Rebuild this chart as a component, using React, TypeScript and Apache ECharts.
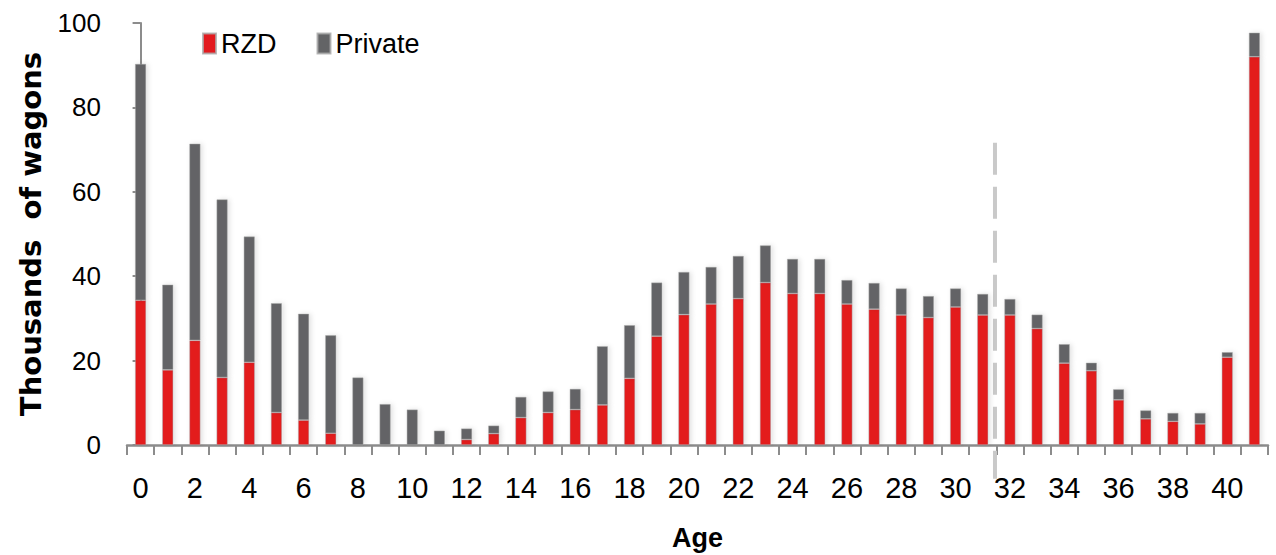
import React, { useEffect, useRef } from "react";
import * as echarts from "echarts";

const ages: string[] = Array.from({ length: 42 }, (_, i) => String(i));
const rzd: number[] = [
  34.3, 17.8, 24.8, 16.0, 19.6, 7.7, 5.9, 2.8, 0, 0,
  0, 0, 1.3, 2.7, 6.5, 7.7, 8.4, 9.5, 15.8, 25.8,
  30.9, 33.4, 34.7, 38.5, 35.9, 35.9, 33.4, 32.2, 30.8, 30.2,
  32.7, 30.8, 30.8, 27.6, 19.4, 17.6, 10.7, 6.2, 5.6, 5.0,
  20.8, 92.0,
];
const total: number[] = [
  90.3, 38.0, 71.4, 58.2, 49.4, 33.6, 31.1, 26.0, 16.0, 9.7,
  8.4, 3.4, 3.9, 4.6, 11.4, 12.7, 13.3, 23.4, 28.4, 38.5,
  41.0, 42.2, 44.8, 47.3, 44.1, 44.1, 39.1, 38.4, 37.1, 35.3,
  37.1, 35.8, 34.6, 30.9, 23.9, 19.5, 13.2, 8.2, 7.6, 7.6,
  22.0, 97.7,
];
const privateVals: number[] = total.map((t, i) => Math.round((t - rzd[i]) * 10) / 10);
const yTicks = { min: 0, max: 100, interval: 20 };
const divider = { x: 31.45, top: 71.6, bottom: -8 };

export default function App() {
  const ref = useRef<HTMLDivElement>(null);
  useEffect(() => {
    document.body.style.margin = "0";
    if (!ref.current) return;
    const chart = echarts.init(ref.current, undefined, { renderer: "svg" });
    const axisColor = "#8c8c8c";
    const barStyle = (color: string) => ({
      color,
      borderColor: "rgba(170,170,170,0.8)",
      borderWidth: 0.6,
      shadowBlur: 5,
      shadowColor: "rgba(0,0,0,0.12)",
      shadowOffsetX: 2,
    });
    chart.setOption({
      animation: false,
      textStyle: { fontFamily: "Liberation Sans" },
      grid: { left: 127, right: 8, top: 23, bottom: 110, containLabel: false, outerBoundsMode: "none" },
      legend: {
        left: 202,
        top: 30,
        padding: 0,
        itemWidth: 13,
        itemHeight: 20,
        itemGap: 40,
        icon: "rect",
        textStyle: { fontSize: 27, color: "#000", fontFamily: "Liberation Sans" },
        data: ["RZD", "Private"],
      },
      xAxis: [
        {
          type: "category",
          data: ages,
          boundaryGap: true,
          name: "Age",
          nameLocation: "middle",
          nameGap: 79,
          nameTextStyle: { fontSize: 27, fontWeight: "bold", color: "#000", fontFamily: "Liberation Sans" },
          axisLine: { lineStyle: { color: axisColor, width: 2.5 } },
          axisTick: { show: true, interval: 0, length: 10, lineStyle: { color: axisColor, width: 2 } },
          axisLabel: {
            interval: 1,
            fontSize: 29,
            color: "#000",
            margin: 28,
            fontFamily: "Liberation Sans",
          },
          splitLine: { show: false },
        },
        {
          type: "value",
          min: -0.5,
          max: 41.5,
          show: false,
        },
      ],
      yAxis: {
        type: "value",
        min: yTicks.min,
        max: yTicks.max,
        interval: yTicks.interval,
        name: "Thousands  of wagons",
        nameLocation: "middle",
        nameGap: 82,
        nameTextStyle: { fontSize: 29, fontWeight: "bold", color: "#000", fontFamily: "DejaVu Sans" },
        axisLine: { show: true, lineStyle: { color: axisColor, width: 2 } },
        axisTick: { show: true, length: 8, lineStyle: { color: axisColor, width: 2 } },
        axisLabel: { fontSize: 26, color: "#000", margin: 26 },
        splitLine: { show: false },
      },
      series: [
        {
          name: "RZD",
          type: "bar",
          stack: "total",
          barWidth: 11,
          data: rzd,
          itemStyle: barStyle("#E31A1F"),
        },
        {
          name: "Private",
          type: "bar",
          stack: "total",
          barWidth: 11,
          data: privateVals,
          itemStyle: barStyle("#636466"),
        },
        {
          name: "divider",
          type: "line",
          xAxisIndex: 1,
          clip: false,
          symbol: "none",
          silent: true,
          data: [
            [divider.x, divider.top],
            [divider.x, divider.bottom],
          ],
          lineStyle: { color: "#c9c9c9", width: 4, type: [32, 12] },
          z: 1,
        },
      ],
    });
    return () => chart.dispose();
  }, []);
  return <div ref={ref} style={{ width: 1276, height: 555 }} />;
}
